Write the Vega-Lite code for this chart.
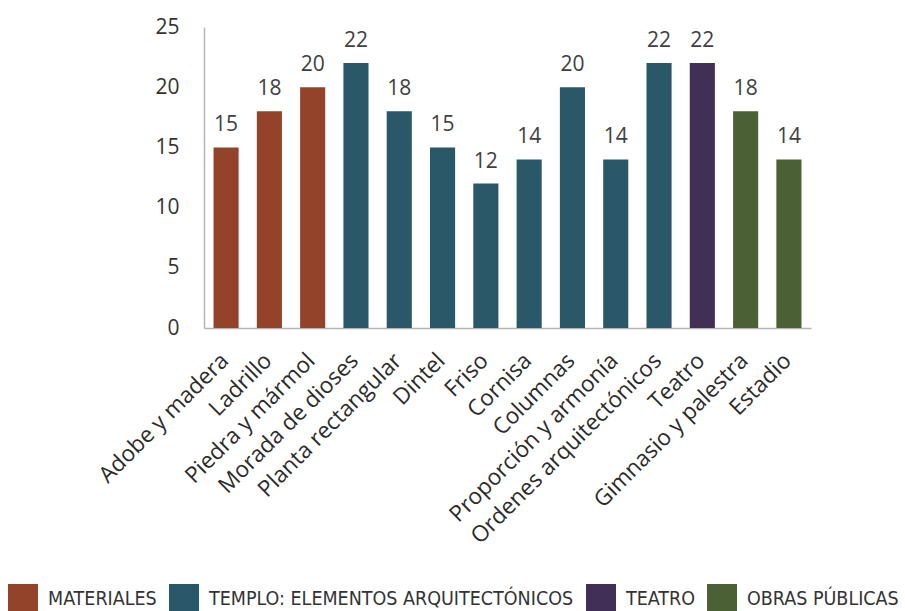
{
  "$schema": "https://vega.github.io/schema/vega-lite/v6.json",
  "autosize": {"type": "none"},
  "width": 607,
  "height": 301,
  "padding": {"left": 204, "top": 27, "right": 94, "bottom": 283},
  "background": "white",
  "config": {"view": {"stroke": null}},
  "data": {"values": [
    {"elemento": "Adobe y madera", "valor": 15, "grupo": "MATERIALES"},
    {"elemento": "Ladrillo", "valor": 18, "grupo": "MATERIALES"},
    {"elemento": "Piedra y mármol", "valor": 20, "grupo": "MATERIALES"},
    {"elemento": "Morada de dioses", "valor": 22, "grupo": "TEMPLO: ELEMENTOS ARQUITECTÓNICOS"},
    {"elemento": "Planta rectangular", "valor": 18, "grupo": "TEMPLO: ELEMENTOS ARQUITECTÓNICOS"},
    {"elemento": "Dintel", "valor": 15, "grupo": "TEMPLO: ELEMENTOS ARQUITECTÓNICOS"},
    {"elemento": "Friso", "valor": 12, "grupo": "TEMPLO: ELEMENTOS ARQUITECTÓNICOS"},
    {"elemento": "Cornisa", "valor": 14, "grupo": "TEMPLO: ELEMENTOS ARQUITECTÓNICOS"},
    {"elemento": "Columnas", "valor": 20, "grupo": "TEMPLO: ELEMENTOS ARQUITECTÓNICOS"},
    {"elemento": "Proporción y armonía", "valor": 14, "grupo": "TEMPLO: ELEMENTOS ARQUITECTÓNICOS"},
    {"elemento": "Ordenes arquitectónicos", "valor": 22, "grupo": "TEMPLO: ELEMENTOS ARQUITECTÓNICOS"},
    {"elemento": "Teatro", "valor": 22, "grupo": "TEATRO"},
    {"elemento": "Gimnasio y palestra", "valor": 18, "grupo": "OBRAS PÚBLICAS"},
    {"elemento": "Estadio", "valor": 14, "grupo": "OBRAS PÚBLICAS"}
  ]},
  "encoding": {
    "x": {
      "field": "elemento", "type": "nominal", "sort": null,
      "scale": {"paddingInner": 0.42, "paddingOuter": 0.22},
      "axis": {
        "title": null, "labelAngle": -45, "labelFont": "Open Sans", "labelFontSize": 22.5,
        "labelColor": "#2b2b2b", "ticks": false, "labelPadding": 21, "labelOffset": -9,
        "domainColor": "#b5b5b5", "domainWidth": 1.5, "labelOverlap": false, "labelLimit": 400
      }
    },
    "y": {
      "field": "valor", "type": "quantitative",
      "scale": {"domain": [0, 25]},
      "axis": {
        "title": null, "values": [0, 5, 10, 15, 20, 25], "grid": false, "ticks": false,
        "labelFont": "Open Sans", "labelFontSize": 21, "labelColor": "#333333", "labelPadding": 25,
        "domainColor": "#b5b5b5", "domainWidth": 1.5
      }
    }
  },
  "layer": [
    {
      "mark": {"type": "bar"},
      "encoding": {
        "color": {
          "field": "grupo", "type": "nominal",
          "scale": {
            "domain": ["MATERIALES", "TEMPLO: ELEMENTOS ARQUITECTÓNICOS", "TEATRO", "OBRAS PÚBLICAS"],
            "range": ["#93432A", "#2A5868", "#422F55", "#4B6034"]
          },
          "legend": {
            "title": null, "orient": "none", "direction": "horizontal", "columns": 4,
            "legendX": -196, "legendY": 557,
            "symbolType": "square", "symbolSize": 900, "symbolStrokeWidth": 0, "symbolOpacity": 1,
            "labelFont": "DejaVu Sans Condensed", "labelFontSize": 19.5, "labelColor": "#333333",
            "labelOffset": 10, "columnPadding": 12, "labelLimit": 500
          }
        }
      }
    },
    {
      "mark": {"type": "text", "baseline": "bottom", "dy": -12, "font": "Open Sans", "fontSize": 21, "color": "#404040"},
      "encoding": {"text": {"field": "valor", "type": "quantitative"}}
    }
  ]
}
